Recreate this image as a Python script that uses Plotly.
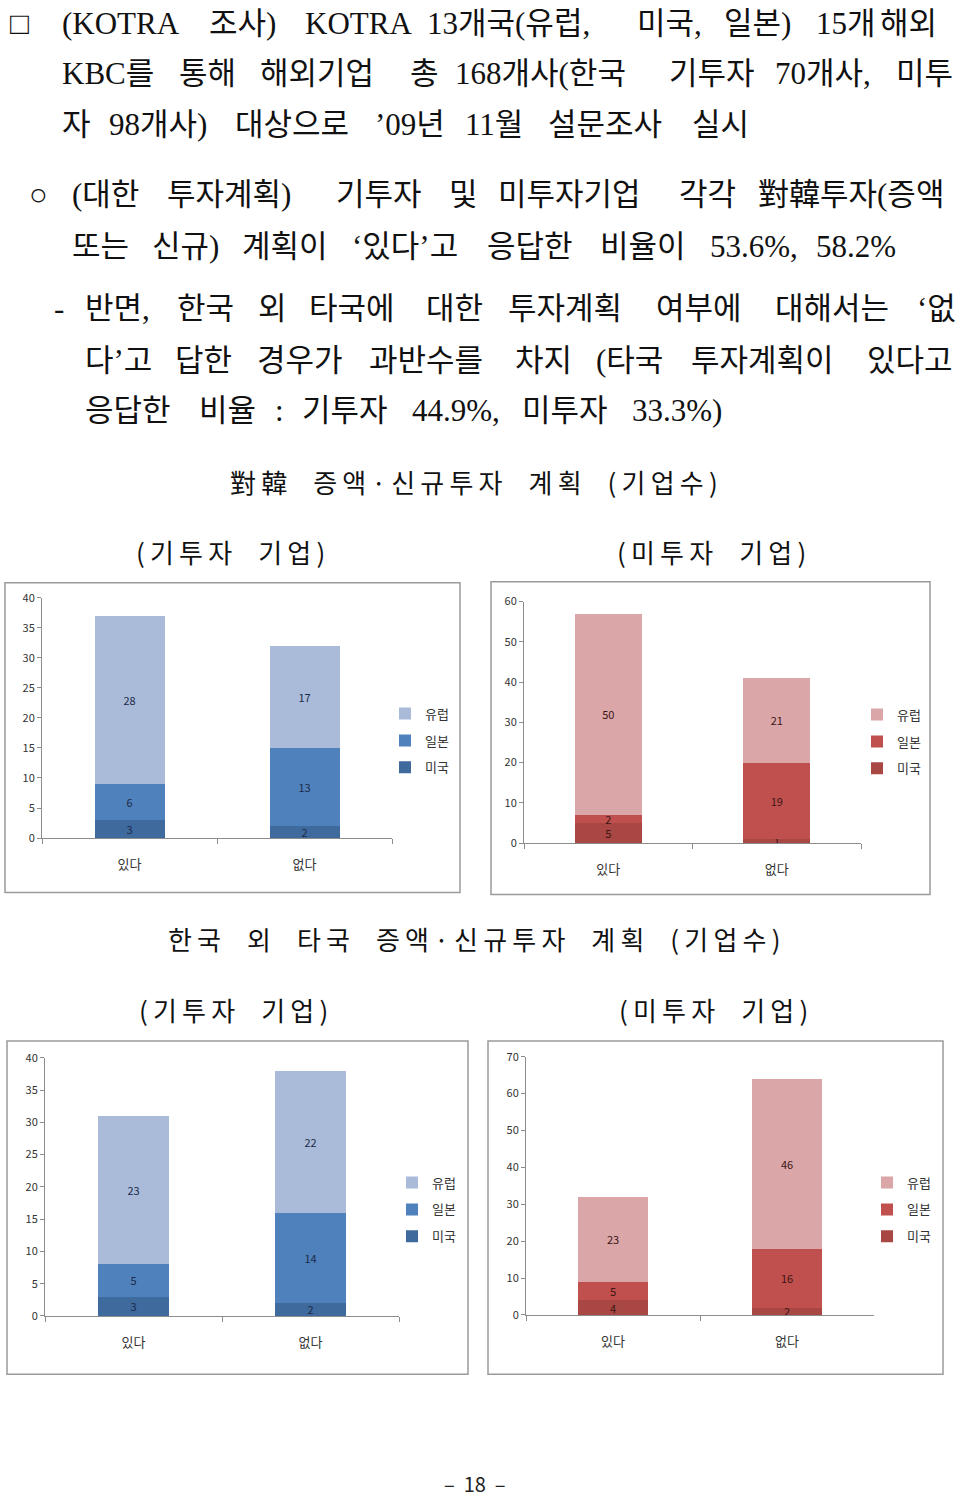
import plotly.graph_objects as go

W, H = 960, 1504

# ---------------- data ----------------
categories = ["있다", "없다"]
series_names = ["미국", "일본", "유럽"]  # stacked bottom -> top
legend_rank = {"유럽": 1, "일본": 2, "미국": 3}

korea_invested_us = [3, 2]
korea_invested_jp = [6, 13]
korea_invested_eu = [28, 17]

korea_new_us = [5, 1]
korea_new_jp = [2, 19]
korea_new_eu = [50, 21]

other_invested_us = [3, 2]
other_invested_jp = [5, 14]
other_invested_eu = [23, 22]

other_new_us = [4, 2]
other_new_jp = [5, 16]
other_new_eu = [23, 46]

blue_colors = ["#3F6A9E", "#4F81BD", "#A9BBD9"]
red_colors = ["#A94744", "#C0504D", "#DBA6A8"]

# ---------------- page text (justified lines, placed word by word) ----------------
body_words = [
    (20, [("□", 8), ("(KOTRA", 60), ("조사)", 207), ("KOTRA", 303), ("13개국(유럽,", 425),
          ("미국,", 635), ("일본)", 722), ("15개", 814), ("해외", 878)]),
    (70, [("KBC를", 60), ("통해", 177), ("해외기업", 258), ("총", 408), ("168개사(한국", 453),
          ("기투자", 667), ("70개사,", 773), ("미투", 894)]),
    (122, [("자", 60), ("98개사)", 107), ("대상으로", 233), ("’09년", 373), ("11월", 463),
           ("설문조사", 546), ("실시", 690)]),
    (192, [("○", 27), ("(대한", 70), ("투자계획)", 165), ("기투자", 334), ("및", 447),
           ("미투자기업", 496), ("각각", 677), ("對韓투자(증액", 756)]),
    (245, [("또는", 70), ("신규)", 150), ("계획이", 240), ("‘있다’고", 350), ("응답한", 485),
           ("비율이", 598), ("53.6%,", 708), ("58.2%", 814)]),
    (308, [("-", 52), ("반면,", 83), ("한국", 175), ("외", 256), ("타국에", 307), ("대한", 424),
           ("투자계획", 506), ("여부에", 654), ("대해서는", 773), ("‘없", 915)]),
    (360, [("다’고", 83), ("답한", 173), ("경우가", 255), ("과반수를", 367), ("차지", 513),
           ("(타국", 594), ("투자계획이", 689), ("있다고", 865)]),
    (411, [("응답한", 83), ("비율", 197), (":", 273), ("기투자", 300), ("44.9%,", 410),
           ("미투자", 520), ("33.3%)", 630)]),
]

titles = [
    ("對韓 증액·신규투자 계획 (기업수)", 474, 483),
    ("(기투자 기업)", 230, 553),
    ("(미투자 기업)", 711, 553),
    ("한국 외 타국 증액·신규투자 계획 (기업수)", 474, 944),
    ("(기투자 기업)", 233, 1016),
    ("(미투자 기업)", 713, 1016),
]


def spaced(s):
    # widen the letter spacing like the original headings
    out = []
    for w in s.split(" "):
        out.append("\u2009".join(list(w)))
    return "\u2002\u2002".join(out)


def X(px):
    return px / W


def Y(py):
    return 1 - py / H


panels = [
    dict(l=42, r=392, t=595, b=838, ymax=40, dtick=5, box=(5, 580, 460, 893),
         data=(korea_invested_us, korea_invested_jp, korea_invested_eu), colors=blue_colors,
         leg=(385, 697), txt="#1c2b4a"),
    dict(l=524, r=861, t=599, b=843, ymax=60, dtick=10, box=(491, 579, 930, 895),
         data=(korea_new_us, korea_new_jp, korea_new_eu), colors=red_colors,
         leg=(857, 698), txt="#3a1515"),
    dict(l=45, r=399, t=1060, b=1321, ymax=40, dtick=5, box=(7, 1043, 468, 1380),
         data=(other_invested_us, other_invested_jp, other_invested_eu), colors=blue_colors,
         leg=(392, 1171), txt="#1c2b4a"),
    dict(l=526, r=874, t=1059, b=1320, ymax=70, dtick=10, box=(488, 1043, 943, 1380),
         data=(other_new_us, other_new_jp, other_new_eu), colors=red_colors,
         leg=(867, 1171), txt="#3a1515"),
]

fig = go.Figure()
layout = dict(
    width=W, height=H, margin=dict(l=0, r=0, t=0, b=0),
    paper_bgcolor="white", plot_bgcolor="white",
    barmode="stack", bargap=0.6, showlegend=True,
    uniformtext=dict(minsize=11, mode="show"),
    font=dict(family="Noto Sans CJK KR, sans-serif", color="#222"),
)
shapes = []
annotations = []

for i, p in enumerate(panels, start=1):
    xa = "x" if i == 1 else f"x{i}"
    ya = "y" if i == 1 else f"y{i}"
    lg = "legend" if i == 1 else f"legend{i}"
    for k, name in enumerate(series_names):
        fig.add_trace(go.Bar(
            x=categories, y=p["data"][k], name=name,
            marker=dict(color=p["colors"][k], line=dict(width=0)),
            texttemplate="%{y}", textangle=0,
            textposition="inside", insidetextanchor="middle",
            textfont=dict(size=11, color=p["txt"], family="Noto Sans CJK KR"),
            xaxis=xa, yaxis=ya, legend=lg, legendgroup=f"{i}-{name}",
            legendrank=legend_rank[name], showlegend=True,
        ))
    layout[f"xaxis{'' if i == 1 else i}"] = dict(
        domain=[X(p["l"]), X(p["r"])], anchor=ya, type="category",
        showline=True, linecolor="#8c8c8c", linewidth=1,
        ticks="outside", tickson="boundaries", ticklen=5, tickcolor="#8c8c8c",
        tickfont=dict(size=13, color="#333"), ticklabelstandoff=14,
        showgrid=False, zeroline=False, fixedrange=True,
    )
    layout[f"yaxis{'' if i == 1 else i}"] = dict(
        domain=[Y(p["b"]), Y(p["t"])], anchor=xa, range=[0, p["ymax"]],
        dtick=p["dtick"], showline=True, linecolor="#8c8c8c", linewidth=1,
        ticks="outside", ticklen=4, tickcolor="#8c8c8c",
        tickfont=dict(size=11, color="#333"), showgrid=False, zeroline=False,
    )
    layout[lg] = dict(
        x=X(p["leg"][0]), y=Y(p["leg"][1]), xanchor="left", yanchor="top",
        traceorder="grouped", tracegroupgap=7,
        font=dict(size=13, color="#333"), bgcolor="rgba(0,0,0,0)",
        itemwidth=30,
    )
    bx = p["box"]
    shapes.append(dict(type="rect", xref="paper", yref="paper",
                       x0=X(bx[0]), x1=X(bx[2]), y0=Y(bx[3]), y1=Y(bx[1]),
                       line=dict(color="#9a9a9a", width=1.5)))

body_font = "Liberation Serif, Noto Sans CJK KR, serif"
for py, words in body_words:
    for text, px in words:
        annotations.append(dict(
            text=text, x=X(px), y=Y(py - 5), xref="paper", yref="paper",
            xanchor="left", yanchor="middle", showarrow=False,
            font=dict(size=31, family=body_font, color="#111"),
        ))

for text, px, py in titles:
    annotations.append(dict(
        text=spaced(text), x=X(px), y=Y(py - 5), xref="paper", yref="paper",
        xanchor="center", yanchor="middle", showarrow=False,
        font=dict(size=26, family="Noto Sans CJK KR", color="#111"),
    ))

annotations.append(dict(
    text="–  18  –", x=X(475), y=Y(1490), xref="paper", yref="paper",
    xanchor="center", yanchor="middle", showarrow=False,
    font=dict(size=20, family="Noto Sans CJK KR", color="#222"),
))

layout["shapes"] = shapes
layout["annotations"] = annotations
fig.update_layout(**layout)
fig.write_html("out.html", config={"displayModeBar": False},
               post_script="document.body.style.margin='0';")
